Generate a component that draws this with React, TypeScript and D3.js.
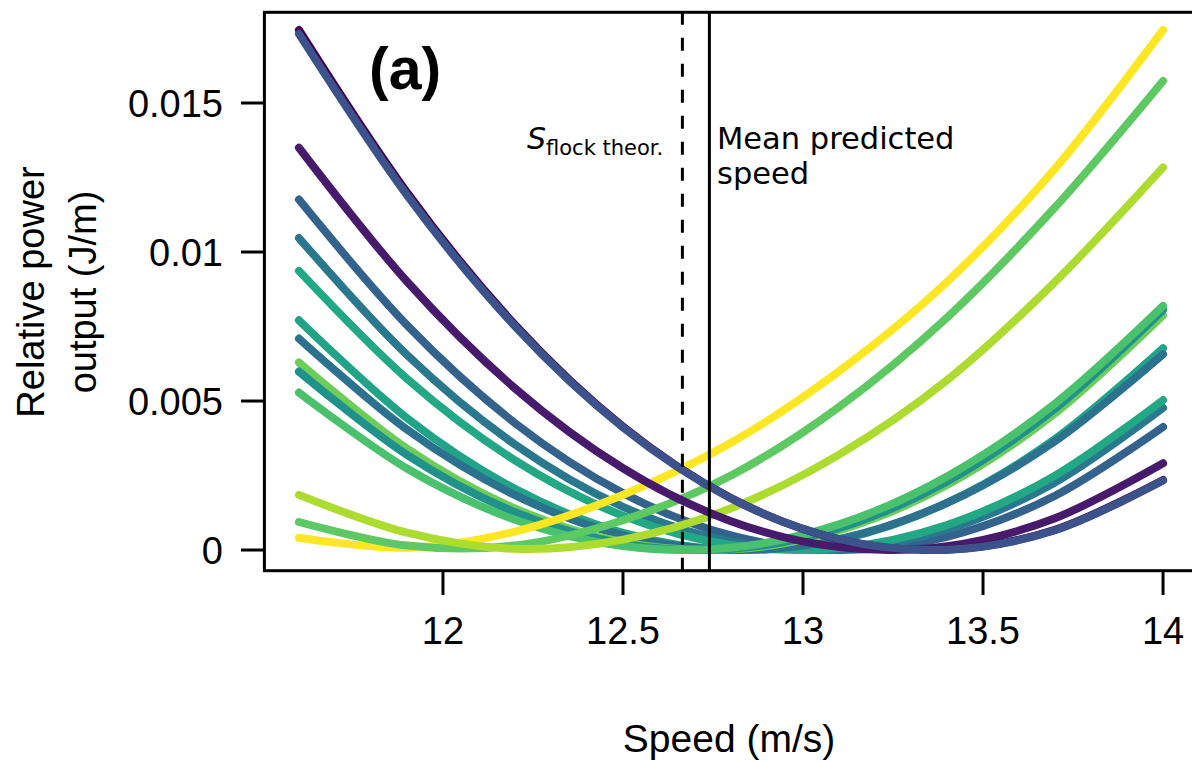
import { useEffect, useRef } from 'react';
import * as d3 from 'd3';

const speeds = [11.6, 11.9, 12.2, 12.5, 12.8, 13.1, 13.4, 13.7, 14.0];

// relative power output (J/m) per curve, in drawing order
const curveColors = [
  '#33638d', '#2a788e', '#22a884', '#20a386', '#2c728e', '#6ccd5a',
  '#21918c', '#4ac16d', '#fde725', '#5ec962', '#addc30',
  '#481a6c', '#440154', '#3b528b',
];
const curveValues = [
  [0.01176, 0.007546, 0.004261, 0.001909, 0.000488, 0.0, 0.000445, 0.001822, 0.004131],
  [0.01047, 0.006548, 0.00354, 0.001449, 0.000277, 0.000023, 0.000687, 0.002269, 0.00477],
  [0.009367, 0.005748, 0.003009, 0.001149, 0.000167, 0.000065, 0.000841, 0.002496, 0.005031],
  [0.007709, 0.004428, 0.002051, 0.000577, 0.000008, 0.000342, 0.001581, 0.003723, 0.006769],
  [0.007094, 0.004041, 0.001841, 0.000495, 0.000003, 0.000364, 0.001579, 0.003648, 0.006571],
  [0.006294, 0.003402, 0.001393, 0.000266, 0.000022, 0.00066, 0.002181, 0.004585, 0.007871],
  [0.005988, 0.003191, 0.001267, 0.000216, 0.000038, 0.000734, 0.002303, 0.004745, 0.00806],
  [0.005283, 0.002734, 0.001017, 0.000132, 0.000079, 0.000859, 0.00247, 0.004914, 0.00819],
  [0.00041, 0.00008, 0.00062, 0.00185, 0.0036, 0.006, 0.009, 0.0128, 0.01745],
  [0.00094, 0.00015, 0.00015, 0.001, 0.0025, 0.0048, 0.0078, 0.0115, 0.01574],
  [0.00185, 0.00058, 0.00004, 0.00035, 0.0014, 0.0032, 0.0057, 0.009, 0.01284],
  [0.0135, 0.009009, 0.005425, 0.002744, 0.000968, 0.000097, 0.00013, 0.001068, 0.00291],
  [0.01745, 0.0120, 0.00756, 0.00414, 0.00174, 0.00036, 0.00001, 0.00068, 0.00235],
  [0.01732, 0.01191, 0.007507, 0.004116, 0.001737, 0.000368, 0.000011, 0.000665, 0.00233],
];

const xTicks = [12, 12.5, 13, 13.5, 14];
const yTicks = [0, 0.005, 0.01, 0.015];
const yTickLabels = ['0', '0.005', '0.01', '0.015'];

const flockTheorSpeed = 12.665;
const meanPredictedSpeed = 12.74;

export default function App() {
  const svgRef = useRef<SVGSVGElement>(null);

  useEffect(() => {
    if (!svgRef.current) return;
    const svg = d3.select(svgRef.current);
    svg.selectAll('*').remove();

    const W = 1192;
    const H = 762;
    svg.attr('width', W).attr('height', H);

    const x = d3.scaleLinear().domain([11.504, 14.096]).range([264.4, 1197.6]);
    const y = d3.scaleLinear().domain([-0.000694, 0.018044]).range([570.7, 12.3]);

    const axisFont = "'Liberation Sans', Arial, sans-serif";
    const noteFont = "'DejaVu Sans', Verdana, sans-serif";

    const line = d3
      .line<number>()
      .x((_, i) => x(speeds[i]))
      .y(d => y(d))
      .curve(d3.curveCatmullRom.alpha(0));

    const g = svg.append('g');
    curveValues.forEach((vals, i) => {
      g.append('path')
        .datum(vals)
        .attr('fill', 'none')
        .attr('stroke', curveColors[i])
        .attr('stroke-width', 8)
        .attr('stroke-linecap', 'round')
        .attr('d', line);
    });

    // reference speeds
    svg.append('line')
      .attr('x1', x(flockTheorSpeed)).attr('x2', x(flockTheorSpeed))
      .attr('y1', y.range()[0]).attr('y2', y.range()[1])
      .attr('stroke', '#000').attr('stroke-width', 3)
      .attr('stroke-dasharray', '13,13');
    svg.append('line')
      .attr('x1', x(meanPredictedSpeed)).attr('x2', x(meanPredictedSpeed))
      .attr('y1', y.range()[0]).attr('y2', y.range()[1])
      .attr('stroke', '#000').attr('stroke-width', 3);

    // box
    svg.append('rect')
      .attr('x', x.range()[0]).attr('y', y.range()[1])
      .attr('width', x.range()[1] - x.range()[0])
      .attr('height', y.range()[0] - y.range()[1])
      .attr('fill', 'none').attr('stroke', '#000').attr('stroke-width', 3);

    // x axis
    const xa = svg.append('g');
    xTicks.forEach(t => {
      xa.append('line')
        .attr('x1', x(t)).attr('x2', x(t))
        .attr('y1', 571).attr('y2', 595)
        .attr('stroke', '#000').attr('stroke-width', 3);
      xa.append('text')
        .attr('x', x(t)).attr('y', 644)
        .attr('text-anchor', 'middle')
        .style('font-family', axisFont).style('font-size', '38px')
        .text(String(t));
    });

    // y axis
    const ya = svg.append('g');
    yTicks.forEach((t, i) => {
      ya.append('line')
        .attr('x1', 241).attr('x2', 265)
        .attr('y1', y(t)).attr('y2', y(t))
        .attr('stroke', '#000').attr('stroke-width', 3);
      ya.append('text')
        .attr('x', 223).attr('y', y(t))
        .attr('dy', '0.36em')
        .attr('text-anchor', 'end')
        .style('font-family', axisFont).style('font-size', '38px')
        .text(yTickLabels[i]);
    });

    svg.append('text')
      .attr('x', 729).attr('y', 752)
      .attr('text-anchor', 'middle')
      .style('font-family', axisFont).style('font-size', '39px')
      .text('Speed (m/s)');

    const yt = svg.append('text')
      .attr('transform', 'translate(0,292) rotate(-90)')
      .attr('text-anchor', 'middle')
      .style('font-family', axisFont).style('font-size', '38px');
    yt.append('tspan').attr('x', 0).attr('y', 44).text('Relative power');
    yt.append('tspan').attr('x', 0).attr('y', 96).text('output (J/m)');

    svg.append('text')
      .attr('x', 369).attr('y', 89)
      .style('font-family', axisFont).style('font-size', '59px')
      .style('font-weight', 'bold')
      .text('(a)');

    const st = svg.append('text')
      .attr('x', 527).attr('y', 149)
      .style('font-family', noteFont).style('font-size', '30px');
    st.append('tspan').style('font-style', 'italic').text('S');
    st.append('tspan').attr('dy', 6).style('font-size', '21px').text('flock theor.');

    const mt = svg.append('text')
      .style('font-family', noteFont).style('font-size', '30.5px');
    mt.append('tspan').attr('x', 717).attr('y', 149).text('Mean predicted');
    mt.append('tspan').attr('x', 717).attr('y', 184).text('speed');
  }, []);

  return (
    <svg ref={svgRef} style={{ position: 'absolute', left: 0, top: 0, background: '#fff' }} />
  );
}
